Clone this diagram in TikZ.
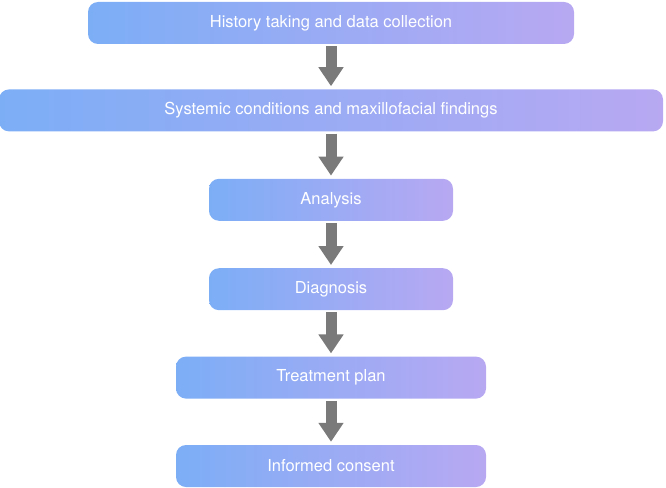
\documentclass[tikz,border=0pt]{standalone}
\usepackage{fontspec}
\setmainfont{TeX Gyre Heros}
\usetikzlibrary{arrows.meta}
\usetikzlibrary{positioning}

\definecolor{boxleft}{RGB}{124,174,246}
\definecolor{boxright}{RGB}{184,168,242}
\definecolor{arrowgray}{RGB}{122,122,122}

\begin{document}
\begin{tikzpicture}[node distance=46pt,
    step box/.style={rounded corners=10pt,left color=boxleft,right color=boxright,
      minimum height=42pt,inner sep=0pt,text=white,
      font=\fontsize{16.5}{19}\selectfont},
    flow/.style={draw=arrowgray,line width=11pt,-{Triangle[width=24pt,length=19pt]},
      shorten <=2pt,shorten >=3pt}]
          \useasboundingbox (0,0) rectangle (666pt,-487pt);
          \node[step box,minimum width=486pt] (history) at (331pt,-23pt) {History taking and data collection};
          \node[step box,minimum width=664pt,below=45pt of history] (findings) {Systemic conditions and maxillofacial findings};
          \node[step box,minimum width=244pt,below=47pt of findings] (analysis) {Analysis};
          \node[step box,minimum width=244pt,below=47pt of analysis] (diagnosis) {Diagnosis};
          \node[step box,minimum width=310pt,below=of diagnosis] (treatment) {Treatment plan};
          \node[step box,minimum width=310pt,below=of treatment] (consent) {Informed consent};
          \draw[flow] (history) -- (findings);
          \draw[flow] (findings) -- (analysis);
          \draw[flow] (analysis) -- (diagnosis);
          \draw[flow] (diagnosis) -- (treatment);
          \draw[flow] (treatment) -- (consent);
        \end{tikzpicture}
\end{document}
